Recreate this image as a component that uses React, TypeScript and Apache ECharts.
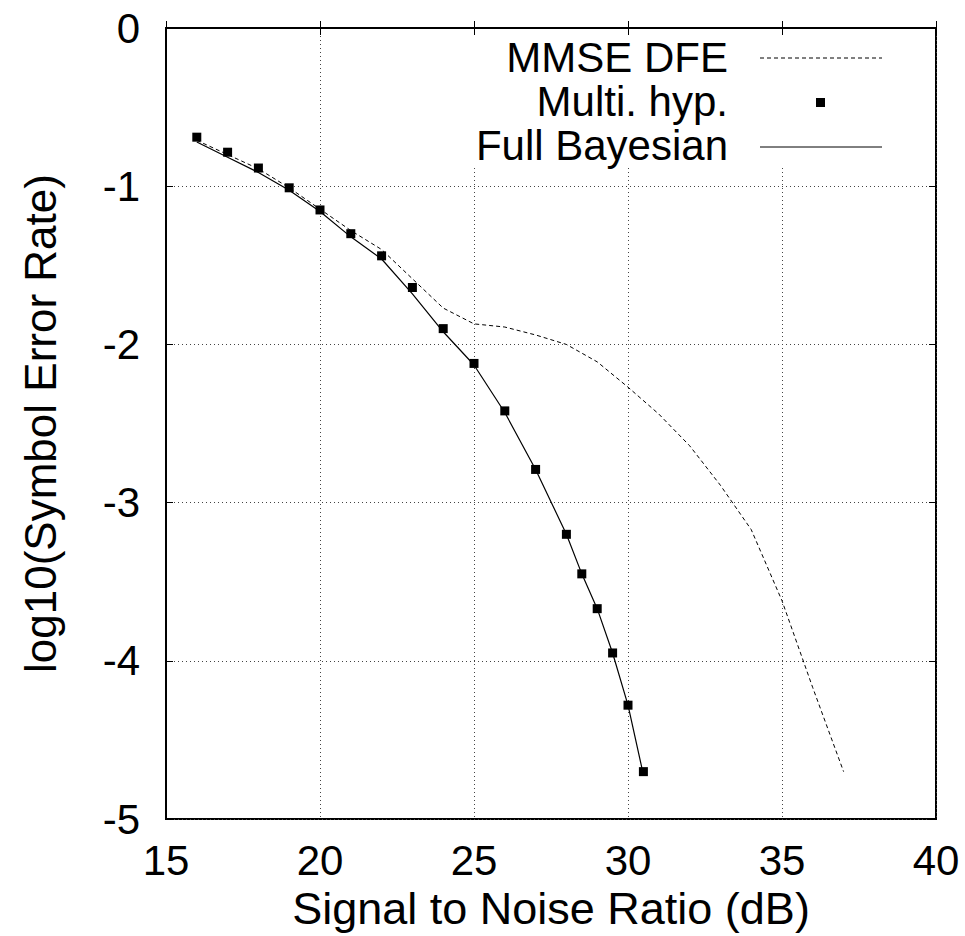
import React, { useEffect, useRef } from "react";
import * as echarts from "echarts";

const xTicks = [15, 20, 25, 30, 35, 40];
const yTicks = [-5, -4, -3, -2, -1, 0];

const snrMmse = [16, 17, 18, 19, 20, 21, 22, 23, 24, 25, 26, 27, 28, 29, 30, 31, 32, 33, 34, 35, 36, 37];
const serMmse = [-0.71, -0.8, -0.89, -1.01, -1.145, -1.28, -1.4, -1.585, -1.77, -1.87, -1.89, -1.94, -2.0, -2.11, -2.27, -2.44, -2.64, -2.89, -3.17, -3.62, -4.17, -4.7];

const snrMulti = [16, 17, 18, 19, 20, 21, 22, 23, 24, 25, 26, 27, 28, 28.5, 29, 29.5, 30, 30.5];
const serMulti = [-0.69, -0.785, -0.885, -1.01, -1.15, -1.3, -1.44, -1.64, -1.9, -2.12, -2.42, -2.79, -3.2, -3.45, -3.67, -3.95, -4.28, -4.7];

const snrFull = [16, 17, 18, 19, 20, 21, 22, 23, 24, 25, 26, 27, 28, 28.5, 29, 29.5, 30, 30.5];
const serFull = [-0.72, -0.817, -0.913, -1.025, -1.16, -1.32, -1.46, -1.68, -1.92, -2.13, -2.43, -2.79, -3.2, -3.45, -3.67, -3.95, -4.28, -4.72];

const legendNames = ["MMSE DFE", "Multi. hyp.", "Full Bayesian"];

const FONT = "'Liberation Sans', Arial, Helvetica, sans-serif";

export default function App() {
  const ref = useRef<HTMLDivElement>(null);
  useEffect(() => {
    if (!ref.current) return;
    const chart = echarts.init(ref.current, undefined, { renderer: "svg" });
    const pair = (xs: number[], ys: number[]) => xs.map((x, i) => [x, ys[i]]);
    const splitLine = { show: true, lineStyle: { color: "#444", type: [1, 3] as any, width: 1 } };
    const baseX = {
      type: "value" as const,
      min: xTicks[0],
      max: xTicks[xTicks.length - 1],
      interval: 5,
    };
    const baseY = {
      type: "value" as const,
      min: yTicks[0],
      max: yTicks[yTicks.length - 1],
      interval: 1,
    };
    const legendText = (i: number, y: number) => ({
      type: "text",
      z: 51,
      x: 728,
      y,
      style: {
        text: legendNames[i],
        fontFamily: FONT,
        fontSize: 42,
        lineHeight: 40,
        fill: "#000",
        align: "right",
        verticalAlign: "middle",
      },
    });
    chart.setOption({
      animation: false,
      backgroundColor: "#fff",
      grid: {
        left: 166,
        top: 28,
        right: 29,
        bottom: 112,
        show: true,
        borderColor: "#000",
        borderWidth: 2,
        backgroundColor: "transparent",
      },
      xAxis: [
        {
          ...baseX,
          position: "bottom",
          name: "Signal to Noise Ratio (dB)",
          nameLocation: "middle",
          nameGap: 54,
          nameTextStyle: { fontFamily: FONT, fontSize: 45, color: "#000" },
          axisLine: { show: true, lineStyle: { color: "#000", width: 2 } },
          axisTick: { show: true, inside: true, length: 7, lineStyle: { color: "#000", width: 1 } },
          axisLabel: { fontFamily: FONT, fontSize: 42, color: "#000", margin: 20 },
          splitLine,
        },
        {
          ...baseX,
          position: "top",
          axisLine: { show: false },
          axisTick: { show: true, inside: true, length: 7, lineStyle: { color: "#000", width: 1 } },
          axisLabel: { show: false },
          splitLine: { show: false },
        },
      ],
      yAxis: [
        {
          ...baseY,
          position: "left",
          name: "log10(Symbol Error Rate)",
          nameLocation: "middle",
          nameGap: 104,
          nameTextStyle: { fontFamily: FONT, fontSize: 44, color: "#000" },
          axisLine: { show: true, lineStyle: { color: "#000", width: 2 } },
          axisTick: { show: true, inside: true, length: 7, lineStyle: { color: "#000", width: 1 } },
          axisLabel: { fontFamily: FONT, fontSize: 42, color: "#000", margin: 26 },
          splitLine,
        },
        {
          ...baseY,
          position: "right",
          axisLine: { show: false },
          axisTick: { show: true, inside: true, length: 7, lineStyle: { color: "#000", width: 1 } },
          axisLabel: { show: false },
          splitLine: { show: false },
        },
      ],
      graphic: [
        {
          type: "rect",
          z: 50,
          shape: { x: 445, y: 36, width: 489, height: 130 },
          style: { fill: "#fff" },
        },
        legendText(0, 57),
        legendText(1, 101),
        legendText(2, 145),
        {
          type: "line",
          z: 51,
          shape: { x1: 760, y1: 58, x2: 882, y2: 58 },
          style: { stroke: "#000", lineWidth: 1, lineDash: [4, 3] },
        },
        {
          type: "rect",
          z: 51,
          shape: { x: 816, y: 98, width: 9, height: 9 },
          style: { fill: "#000" },
        },
        {
          type: "line",
          z: 51,
          shape: { x1: 760, y1: 147, x2: 882, y2: 147 },
          style: { stroke: "#000", lineWidth: 1 },
        },
      ],
      series: [
        {
          name: legendNames[0],
          type: "line",
          data: pair(snrMmse, serMmse),
          symbol: "none",
          lineStyle: { color: "#000", width: 1, type: [4, 3] },
          z: 3,
        },
        {
          name: legendNames[1],
          type: "scatter",
          data: pair(snrMulti, serMulti),
          symbol: "rect",
          symbolSize: 9,
          itemStyle: { color: "#000", opacity: 1 },
          z: 5,
        },
        {
          name: legendNames[2],
          type: "line",
          data: pair(snrFull, serFull),
          symbol: "none",
          lineStyle: { color: "#000", width: 1.2 },
          z: 4,
        },
      ],
    });
    return () => chart.dispose();
  }, []);
  return <div ref={ref} style={{ width: 965, height: 936, position: "absolute", left: 0, top: 0 }} />;
}
